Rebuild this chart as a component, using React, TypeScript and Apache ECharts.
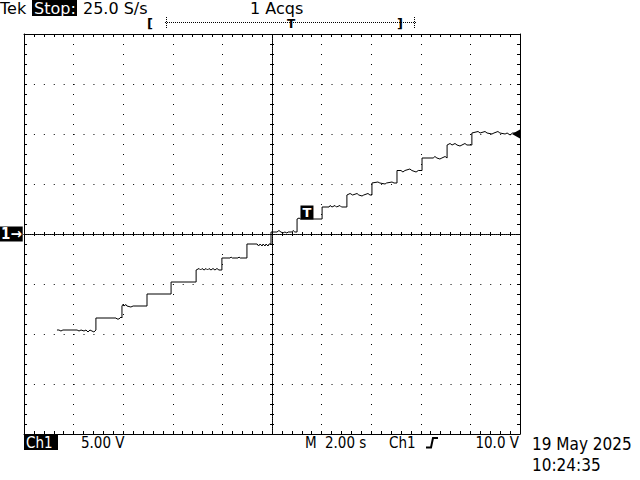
import React, { useEffect, useRef } from 'react';
import * as echarts from 'echarts';

// Time (s, relative to screen centre; 2.00 s/div) and voltage (V; 5.00 V/div) of the Ch1 trace
const traceTime = [
  -8.67, -8.59, -8.51, -8.43, -7.86, -7.78, -7.7, -7.58, -7.5, -7.42, -7.34, -7.26, -7.18, -7.1,
  -7.1, -6.29, -6.25, -6.17, -6.09, -6.05,
  -6.05, -6.01, -5.97, -5.89, -5.85, -5.69, -5.6, -5.04,
  -5.04, -4.07,
  -4.07, -3.06,
  -3.06, -2.94, -2.88, -2.82, -2.74, -2.66, -2.6, -2.54, -2.46, -2.38, -2.3, -2.22, -2.14, -2.02,
  -2.02, -1.69, -1.65, -1.6, -1.37, -1.33, -1.28, -1.01,
  -1.01, -0.6, -0.54, -0.48, -0.4, -0.36, -0.28, -0.24, -0.16, -0.12, -0.04,
  -0.04, 0.2, 0.28, 0.36, 0.44, 0.52, 0.6, 0.65, 0.8, 0.85, 0.92, 1.01,
  1.01, 1.09, 1.15, 2.02,
  2.02, 2.3, 2.34, 2.42, 2.54, 2.6, 2.74, 2.8, 3.02,
  3.02, 3.15, 3.25, 3.43, 3.5, 3.63, 3.7, 3.87, 3.95, 4.03,
  4.03, 4.27, 4.35, 4.56, 4.62, 4.84, 4.92, 5.04,
  5.04, 5.2, 5.28, 5.36, 5.56, 5.64, 5.81, 5.9, 6.05,
  6.05, 6.5, 6.57, 6.65, 6.77, 6.85, 6.98, 7.06,
  7.06, 7.18, 7.26, 7.38, 7.46, 7.58, 7.66, 7.78, 7.86, 8.06,
  8.06, 8.31, 8.39, 8.59, 8.67, 8.87, 8.95, 9.11, 9.19, 9.4, 9.48, 9.6, 9.7, 9.92,
];
const traceVolt = [
  -9.6, -9.6, -9.7, -9.6, -9.6, -9.7, -9.6, -9.7, -9.6, -9.8, -9.6, -9.7, -9.8, -9.6,
  -8.4, -8.4, -8.5, -8.5, -8.3, -8.4,
  -7.2, -7.05, -7.2, -7.05, -7.2, -7.3, -7.2, -7.2,
  -6.0, -6.0,
  -4.8, -4.8,
  -3.6, -3.45, -3.6, -3.45, -3.6, -3.45, -3.6, -3.45, -3.6, -3.45, -3.6, -3.45, -3.6, -3.6,
  -2.4, -2.4, -2.3, -2.4, -2.4, -2.3, -2.4, -2.4,
  -1.0, -1.0, -1.2, -1.0, -1.2, -1.0, -1.2, -1.0, -1.2, -1.0, -1.0,
  0.2, 0.2, 0.35, 0.2, 0.1, 0.2, 0.1, 0.2, 0.2, 0.35, 0.2, 0.2,
  1.5, 1.6, 1.5, 1.5,
  2.7, 2.7, 2.85, 2.7, 2.85, 2.7, 2.85, 2.7, 2.7,
  3.9, 4.05, 3.9, 4.05, 3.9, 3.8, 3.9, 4.05, 3.9, 3.9,
  5.1, 5.2, 5.1, 5.0, 5.1, 5.2, 5.1, 5.1,
  6.35, 6.35, 6.2, 6.35, 6.5, 6.35, 6.2, 6.35, 6.35,
  7.6, 7.6, 7.75, 7.6, 7.5, 7.6, 7.75, 7.6,
  8.9, 9.05, 8.9, 9.05, 8.9, 8.8, 8.9, 9.05, 8.9, 8.9,
  10.1, 10.25, 10.1, 10.25, 10.1, 10.0, 10.1, 10.25, 10.1, 10.0, 10.1, 9.9, 10.1, 10.1,
];

const timeMin = -10;
const timeMax = 10;
const timeDiv = 2;
const voltMin = -20;
const voltMax = 20;
const voltDiv = 5;
const triggerMark = [1.41, 2.15];
const triggerLevel = 10.0;

const headerLeft = ['Tek', 'Stop:', '25.0 S/s'];
const headerCenter = '1 Acqs';
const footerTexts = ['Ch1', '5.00 V', 'M', '2.00 s', 'Ch1', '10.0 V'];
const dateLines = ['19 May 2025', '10:24:35'];

const TOP_FONT = '16px "DejaVu Sans"';
const BOT_FONT = '15px "DejaVu Sans Condensed"';
const DATE_FONT = '17px "DejaVu Sans Condensed"';

function frameX(position: string, withSplit: boolean) {
  return {
    type: 'value', min: timeMin, max: timeMax, interval: timeDiv, position,
    axisLine: { show: true, onZero: false, lineStyle: { color: '#000', width: 1 } },
    axisTick: { show: true, inside: true, length: 3, lineStyle: { color: '#000' } },
    minorTick: { show: true, splitNumber: 5, length: 3, lineStyle: { color: '#000' } },
    axisLabel: { show: false },
    splitLine: { show: withSplit, lineStyle: { color: '#000', width: 1, type: [1, 9] } },
  };
}
function centerX(position: string) {
  return {
    type: 'value', min: timeMin, max: timeMax, interval: timeDiv, position,
    axisLine: { show: true, onZero: true, onZeroAxisIndex: 0, lineStyle: { color: '#000', width: 1, type: [1, 1] } },
    axisTick: { show: true, inside: false, length: 2, lineStyle: { color: '#000' } },
    minorTick: { show: true, splitNumber: 5, length: 2, lineStyle: { color: '#000' } },
    axisLabel: { show: false },
    splitLine: { show: false },
  };
}
function frameY(position: string, withSplit: boolean) {
  return {
    type: 'value', min: voltMin, max: voltMax, interval: voltDiv, position,
    axisLine: { show: true, onZero: false, lineStyle: { color: '#000', width: 1 } },
    axisTick: { show: true, inside: true, length: 3, lineStyle: { color: '#000' } },
    minorTick: { show: true, splitNumber: 5, length: 3, lineStyle: { color: '#000' } },
    axisLabel: withSplit
      ? {
          show: true, margin: 24, align: 'left',
          formatter: (v: number) => (v === 0 ? '{m|1→}' : ''),
          rich: {
            m: {
              backgroundColor: '#000', color: '#fff', fontSize: 15, fontWeight: 'bold',
              fontFamily: 'DejaVu Sans Condensed', padding: [0, 1, 0, 1], lineHeight: 15,
            },
          },
        }
      : { show: false },
    splitLine: { show: withSplit, lineStyle: { color: '#000', width: 1, type: [1, 8.92] } },
  };
}
function centerY(position: string) {
  return {
    type: 'value', min: voltMin, max: voltMax, interval: voltDiv, position,
    axisLine: { show: true, onZero: true, onZeroAxisIndex: 0, lineStyle: { color: '#000', width: 1, type: [1, 1] } },
    axisTick: { show: true, inside: false, length: 2, lineStyle: { color: '#000' } },
    minorTick: { show: true, splitNumber: 5, length: 2, lineStyle: { color: '#000' } },
    axisLabel: { show: false },
    splitLine: { show: false },
  };
}

export default function App() {
  const ref = useRef<HTMLDivElement>(null);
  useEffect(() => {
    if (!ref.current) return;
    const chart = echarts.init(ref.current, undefined, { renderer: 'svg' });
    const data = traceTime.map((t, i) => [t, traceVolt[i]]);
    const txt = (text: string, x: number, y: number, font: string, fill = '#000', align = 'left', lineHeight?: number) => ({
      type: 'text', x, y, silent: true,
      style: { text, font, fill, align, verticalAlign: 'top', ...(lineHeight ? { lineHeight } : {}) },
    });
    chart.setOption({
      animation: false,
      backgroundColor: '#fff',
      textStyle: { fontFamily: 'DejaVu Sans' },
      grid: { left: 24, top: 34, width: 496, height: 400, show: false, containLabel: false, outerBoundsMode: 'none' },
      xAxis: [frameX('bottom', true), frameX('top', false), centerX('bottom'), centerX('top')],
      yAxis: [frameY('left', true), frameY('right', false), centerY('left'), centerY('right')],
      series: [
        {
          type: 'line', xAxisIndex: 0, yAxisIndex: 0, data, showSymbol: false, symbol: 'none',
          lineStyle: { color: '#000', width: 1 }, silent: true,
          markPoint: {
            silent: true,
            data: [
              {
                coord: triggerMark, symbol: 'rect', symbolSize: [13, 14],
                itemStyle: { color: '#000' },
                label: { show: true, position: 'inside', formatter: 'T', color: '#fff', fontSize: 13, fontWeight: 'bold', fontFamily: 'DejaVu Sans' },
              },
              {
                coord: [timeMax, triggerLevel], symbol: 'triangle', symbolRotate: 90, symbolSize: [9, 8],
                symbolOffset: [-4, 0], itemStyle: { color: '#000' }, label: { show: false },
              },
            ],
          },
        },
      ],
      graphic: [
        txt(headerLeft[0], 0, 0, TOP_FONT, '#000', 'left', 16),
        { type: 'rect', shape: { x: 32, y: 0, width: 45, height: 16 }, style: { fill: '#000' }, silent: true },
        txt(headerLeft[1], 34, 0, TOP_FONT, '#fff', 'left', 16),
        txt(headerLeft[2], 83, 0, TOP_FONT, '#000', 'left', 16),
        txt(headerCenter, 250, 0, TOP_FONT, '#000', 'left', 16),
        txt('[', 147, 17, 'bold 13px "DejaVu Sans"', '#000', 'left', 12),
        { type: 'line', shape: { x1: 165, y1: 22.5, x2: 416, y2: 22.5 }, style: { stroke: '#000', lineWidth: 1, lineDash: [1, 1] }, silent: true },
        { type: 'line', shape: { x1: 166.5, y1: 17, x2: 166.5, y2: 28 }, style: { stroke: '#000', lineWidth: 1, lineDash: [1, 1] }, silent: true },
        { type: 'line', shape: { x1: 414.5, y1: 17, x2: 414.5, y2: 28 }, style: { stroke: '#000', lineWidth: 1, lineDash: [1, 1] }, silent: true },
        txt('T', 291, 18, 'bold 12px "DejaVu Sans"', '#000', 'center', 11),
        txt(']', 397, 17, 'bold 13px "DejaVu Sans"', '#000', 'left', 12),
        { type: 'rect', shape: { x: 24, y: 435, width: 34, height: 15 }, style: { fill: '#000' }, silent: true },
        txt(footerTexts[0], 26, 435, BOT_FONT, '#fff'),
        txt(footerTexts[1], 81, 435, BOT_FONT),
        txt(footerTexts[2], 305, 435, BOT_FONT),
        txt(footerTexts[3], 325, 435, BOT_FONT),
        txt(footerTexts[4], 389, 435, BOT_FONT),
        { type: 'polyline', shape: { points: [[426, 447.5], [431, 447.5], [433, 438], [438, 438]] }, style: { stroke: '#000', lineWidth: 2, fill: null }, silent: true },
        txt(footerTexts[5], 519, 435, BOT_FONT, '#000', 'right'),
        txt(dateLines[0], 532, 435, DATE_FONT),
        txt(dateLines[1], 532, 456, DATE_FONT),
      ],
    });
    return () => chart.dispose();
  }, []);
  return <div ref={ref} style={{ position: 'fixed', left: 0, top: 0, width: 640, height: 480 }} />;
}
